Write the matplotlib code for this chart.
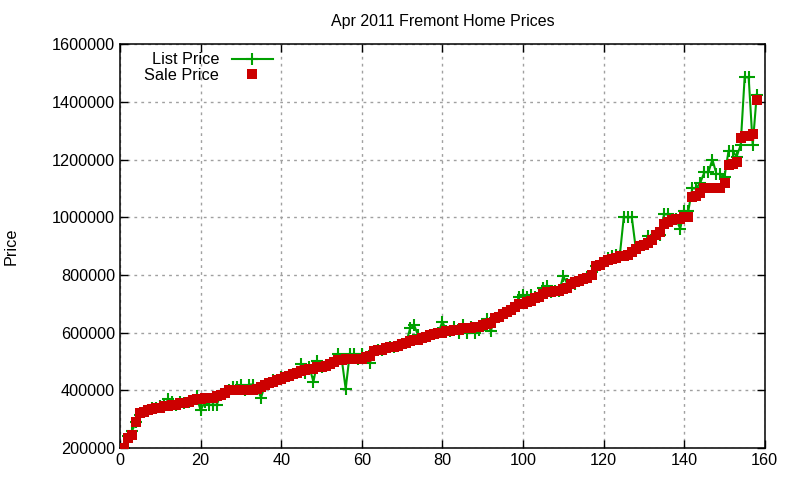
import numpy as np
import matplotlib
matplotlib.use('Agg')
import matplotlib.pyplot as plt

plt.rcParams['font.family'] = ['Liberation Sans', 'DejaVu Sans']

sale_price = [
    200000, 235000, 245000, 290000, 320000, 325000, 330000, 335000, 340000, 340000,
    345000, 345000, 350000, 350000, 355000, 355000, 360000, 365000, 370000, 370000,
    372000, 375000, 375000, 380000, 385000, 390000, 400000, 400000, 400000, 400000,
    400000, 400000, 402000, 405000, 410000, 420000, 425000, 430000, 435000, 440000,
    445000, 450000, 455000, 460000, 468000, 470000, 475000, 475000, 480000, 480000,
    485000, 490000, 498000, 505000, 505000, 510000, 510000, 510000, 510000, 510000,
    515000, 520000, 535000, 540000, 540000, 545000, 550000, 550000, 555000, 560000,
    565000, 570000, 575000, 575000, 580000, 585000, 590000, 595000, 600000, 600000,
    605000, 605000, 610000, 610000, 615000, 615000, 615000, 620000, 620000, 625000,
    630000, 635000, 650000, 655000, 665000, 670000, 680000, 690000, 700000, 700000,
    705000, 710000, 720000, 725000, 735000, 740000, 740000, 745000, 745000, 750000,
    755000, 770000, 775000, 780000, 785000, 790000, 800000, 830000, 835000, 845000,
    850000, 855000, 860000, 865000, 865000, 870000, 880000, 890000, 900000, 905000,
    910000, 920000, 940000, 950000, 975000, 985000, 990000, 995000, 995000, 1000000,
    1000000, 1070000, 1075000, 1085000, 1100000, 1100000, 1100000, 1100000, 1100000, 1120000,
    1180000, 1185000, 1190000, 1275000, 1280000, 1282000, 1290000, 1405000,
]

list_price = [
    200000, 240000, 260000, 290000, 315000, 325000, 330000, 340000, 340000, 345000,
    345000, 370000, 360000, 350000, 360000, 355000, 360000, 365000, 380000, 330000,
    360000, 350000, 350000, 350000, 385000, 390000, 400000, 410000, 410000, 420000,
    400000, 420000, 420000, 405000, 375000, 420000, 425000, 435000, 435000, 445000,
    445000, 450000, 455000, 460000, 490000, 460000, 480000, 430000, 500000, 480000,
    485000, 490000, 498000, 525000, 510000, 405000, 525000, 525000, 510000, 525000,
    515000, 495000, 535000, 540000, 540000, 545000, 550000, 550000, 555000, 560000,
    565000, 615000, 625000, 590000, 580000, 585000, 590000, 595000, 600000, 638000,
    605000, 605000, 620000, 600000, 625000, 600000, 620000, 600000, 610000, 625000,
    648000, 605000, 650000, 655000, 665000, 670000, 680000, 690000, 725000, 730000,
    725000, 730000, 725000, 725000, 755000, 760000, 740000, 745000, 745000, 795000,
    770000, 770000, 770000, 780000, 785000, 790000, 810000, 830000, 835000, 845000,
    860000, 865000, 870000, 865000, 1000000, 1000000, 1000000, 890000, 900000, 905000,
    935000, 935000, 940000, 940000, 1010000, 1010000, 990000, 995000, 960000, 1020000,
    1020000, 1100000, 1100000, 1120000, 1156000, 1156000, 1200000, 1150000, 1150000, 1140000,
    1230000, 1230000, 1210000, 1250000, 1485000, 1485000, 1250000, 1425000,
]

idx = np.arange(1, len(sale_price) + 1)

fig = plt.figure(figsize=(8, 4.8), dpi=100)
ax = fig.add_axes([0.15, 0.0667, 0.806, 0.8413])

ax.plot(idx, list_price, color='#00a000', linestyle='-', linewidth=1.5,
        marker='+', markersize=9, markeredgewidth=1.5, label='List Price', zorder=2)
ax.plot(idx, sale_price, color='#cc0000', linestyle='None',
        marker='s', markersize=7, markeredgewidth=0, label='Sale Price', zorder=3)

ax.set_xlim(0, 160)
ax.set_ylim(200000, 1600000)
ax.set_xticks(np.arange(0, 161, 20))
ax.set_yticks(np.arange(200000, 1600001, 200000))
ax.ticklabel_format(style='plain', axis='y', useOffset=False)
ax.tick_params(direction='in', length=6, width=1, top=True, right=True,
               labelsize=11.7, colors='black')
for s in ax.spines.values():
    s.set_linewidth(1.1)
ax.grid(True, color='#a0a0a0', linestyle=(0, (2, 3)), linewidth=1)

ax.set_title('Apr 2011 Fremont Home Prices', fontsize=11.5, pad=13)
ax.set_ylabel('Price', fontsize=11.7, labelpad=24)

leg = ax.legend(loc='upper left', frameon=False, markerfirst=False, fontsize=11.7,
                handlelength=2.5, borderaxespad=0.1, labelspacing=0.05,
                bbox_to_anchor=(0.025, 1.0))

fig.savefig('out.png', dpi=100)
